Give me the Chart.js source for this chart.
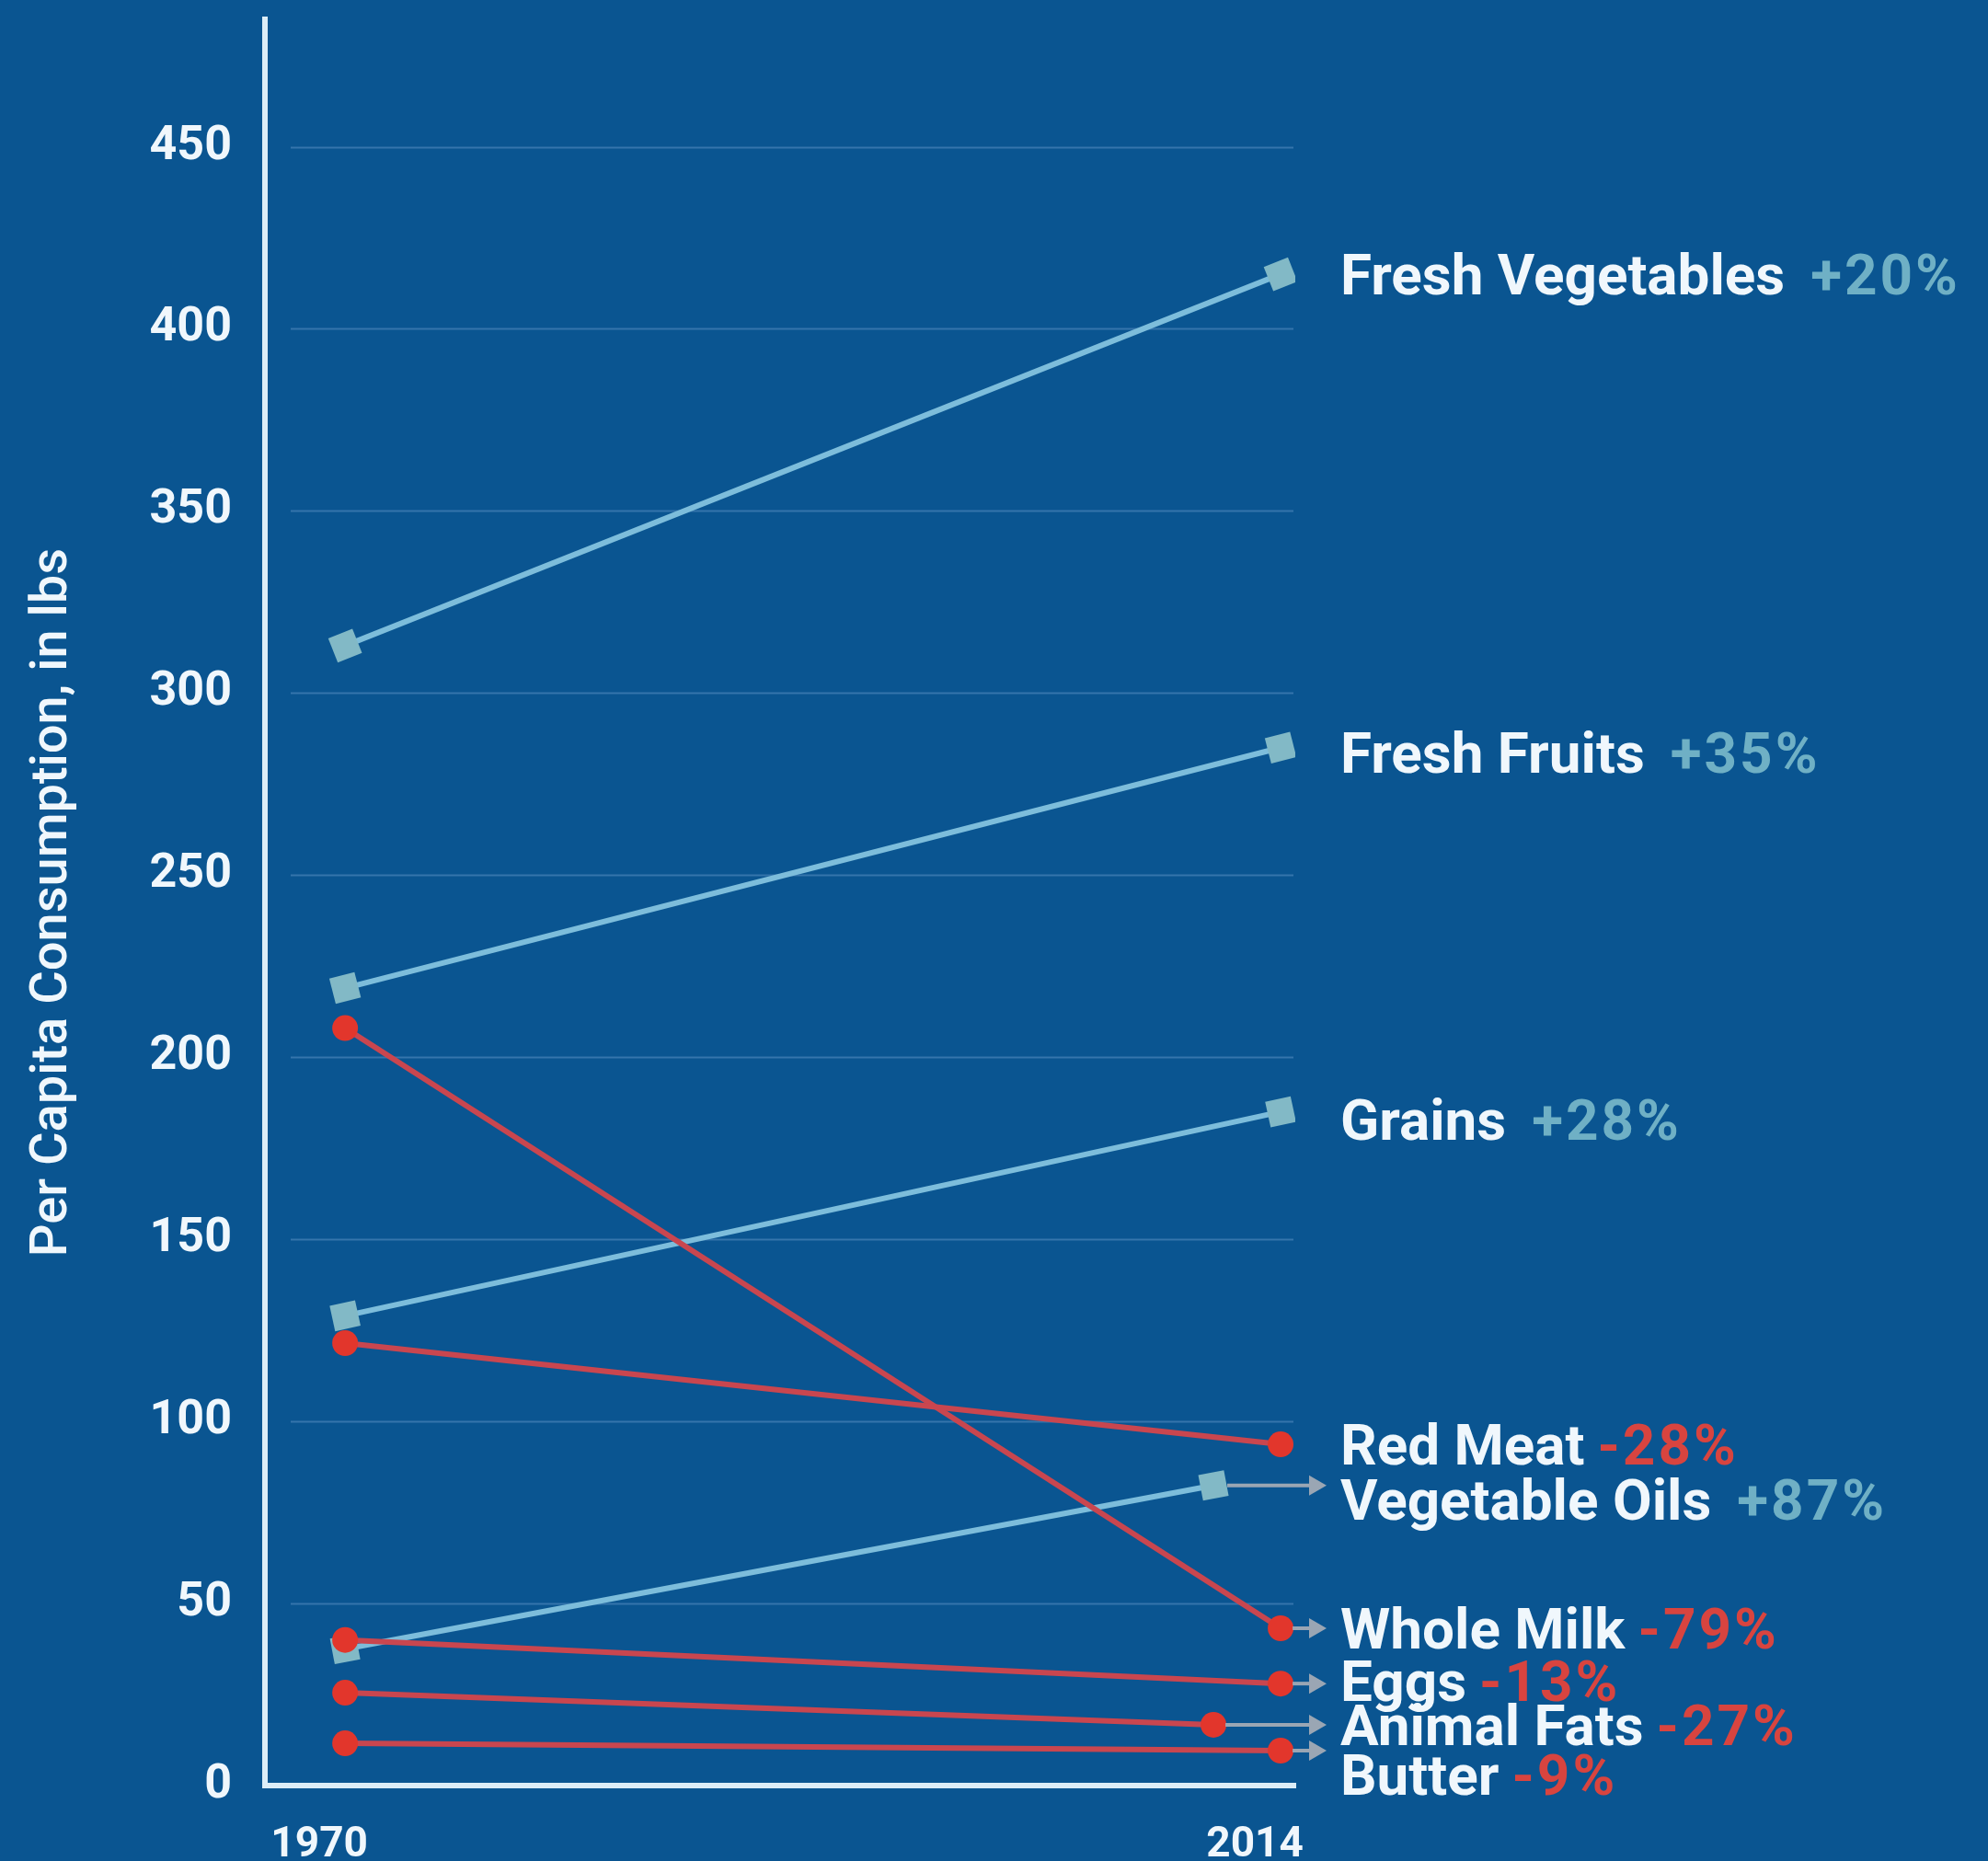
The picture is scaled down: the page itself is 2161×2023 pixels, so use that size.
<!DOCTYPE html>
<html>
<head>
<meta charset="utf-8">
<script src="https://cdn.jsdelivr.net/npm/chart.js@4.4.1/dist/chart.umd.min.js"></script>
<style>
  html, body { margin: 0; padding: 0; background: #0a5591; }
  #wrap { width: 2161px; height: 2023px; position: relative; }
</style>
</head>
<body>
<div id="wrap"><canvas id="chart"></canvas></div>
<script>
const years = [1970, 2014];
const foods = ['Fresh Vegetables', 'Fresh Fruits', 'Grains', 'Red Meat', 'Vegetable Oils', 'Whole Milk', 'Eggs', 'Animal Fats', 'Butter'];
const changes = ['+20%', '+35%', '+28%', '-28%', '+87%', '-79%', '-13%', '-27%', '-9%'];
const lbs1970 = [313, 219, 129, 121.5, 37.5, 208, 40, 25.5, 11.6];
const lbs2014 = [415, 285, 185, 93.7, 82.4, 43.2, 28, 16.7, 9.6];
const yTicks = [0, 50, 100, 150, 200, 250, 300, 350, 400, 450];

// label layout tweaks (px): vertical nudge of the right-hand labels,
// horizontal pull-back of crowded end markers, and which ones get an arrow
const labelShift = [0, 5, 8, 0, 15, 0, -3, 0, 26];
const endShift = [0, 0, 0, 0, -73, 0, 0, -73, 0];
const withArrow = [false, false, false, false, true, true, true, true, true];

const TEAL_LINE = '#7dbddb';
const TEAL_MARK = '#82b9c6';
const TEAL_TEXT = '#6fb0c5';
const RED_LINE = '#c9464f';
const RED_MARK = '#e2362c';
const RED_TEXT = '#d8443f';
const WHITE = '#f0f7fc';

const slopeAngle = (ctx) => {
  const { x, y } = ctx.chart.scales;
  if (!x || !y) return 0;
  const i = ctx.datasetIndex;
  const dx = x.getPixelForValue(years[1]) - x.getPixelForValue(years[0]) + endShift[i];
  const dy = y.getPixelForValue(lbs2014[i]) - y.getPixelForValue(lbs1970[i]);
  return Math.atan2(dy, dx) * 180 / Math.PI;
};

const datasets = foods.map((name, i) => {
  const up = lbs2014[i] > lbs1970[i];
  return {
    label: name,
    data: [{ x: years[0], y: lbs1970[i] }, { x: years[1], y: lbs2014[i] }],
    borderColor: up ? TEAL_LINE : RED_LINE,
    borderWidth: 6,
    pointStyle: up ? 'rect' : 'circle',
    pointRadius: up ? 20 : 14,
    pointBorderWidth: 0,
    pointBackgroundColor: up ? TEAL_MARK : RED_MARK,
    pointRotation: up ? slopeAngle : 0,
    order: up ? 1 : 0,
    endShift: endShift[i]
  };
});

const shiftEnds = {
  id: 'shiftEnds',
  afterDatasetsUpdate(chart) {
    chart.data.datasets.forEach((ds, i) => {
      if (!ds.endShift) return;
      const pt = chart.getDatasetMeta(i).data[1];
      pt.x += ds.endShift;
    });
  }
};

const gridLines = {
  id: 'gridLines',
  beforeDatasetsDraw(chart) {
    const { ctx, chartArea: { left, right }, scales: { y } } = chart;
    ctx.save();
    ctx.strokeStyle = 'rgba(95,150,200,0.5)';
    ctx.lineWidth = 2;
    yTicks.forEach(v => {
      if (v === 0) return;
      const py = Math.round(y.getPixelForValue(v)) + 0.5;
      ctx.beginPath();
      ctx.moveTo(left + 28, py);
      ctx.lineTo(right - 2, py);
      ctx.stroke();
    });
    ctx.restore();
  }
};

const foodLabels = {
  id: 'foodLabels',
  afterDatasetsDraw(chart) {
    const { ctx, chartArea: { right } } = chart;
    const tipX = right + 34;
    const textX = right + 49;
    ctx.save();
    foods.forEach((name, i) => {
      const pt = chart.getDatasetMeta(i).data[1];
      const up = lbs2014[i] > lbs1970[i];

      if (withArrow[i]) {
        const r = up ? 15 : 13;
        ctx.strokeStyle = '#9aa6b4';
        ctx.fillStyle = '#9aa6b4';
        ctx.lineWidth = 4;
        ctx.beginPath();
        ctx.moveTo(pt.x + r, pt.y);
        ctx.lineTo(tipX - 16, pt.y);
        ctx.stroke();
        ctx.beginPath();
        ctx.moveTo(tipX, pt.y);
        ctx.lineTo(tipX - 19, pt.y - 11);
        ctx.lineTo(tipX - 19, pt.y + 11);
        ctx.closePath();
        ctx.fill();
      }

      const ty = pt.y + labelShift[i] + 22;
      ctx.font = 'bold 62px Roboto';
      ctx.textAlign = 'left';
      ctx.textBaseline = 'alphabetic';
      ctx.letterSpacing = '0px';
      ctx.fillStyle = WHITE;
      ctx.fillText(name, textX, ty);
      const w = ctx.measureText(name).width;
      ctx.letterSpacing = '3px';
      ctx.fillStyle = up ? TEAL_TEXT : RED_TEXT;
      ctx.fillText(changes[i], textX + w + (up ? 28 : 14), ty);
    });
    ctx.restore();
  }
};

new Chart(document.getElementById('chart'), {
  type: 'line',
  data: { datasets },
  options: {
    responsive: true,
    maintainAspectRatio: false,
    animation: false,
    layout: {
      padding: { top: 21, right: 753, left: 0, bottom: 0 }
    },
    plugins: {
      legend: { display: false },
      tooltip: { enabled: false }
    },
    scales: {
      x: {
        type: 'linear',
        min: 1966.23,
        max: 2014.69,
        afterBuildTicks: (scale) => {
          scale.ticks = years.map(v => ({ value: v }));
        },
        afterFit: (scale) => {
          scale.height = 82;
          scale.paddingLeft = 0;
          scale.paddingRight = 0;
        },
        grid: { display: false },
        border: { display: true, color: '#dcedf7', width: 6 },
        ticks: {
          color: WHITE,
          font: { family: 'Roboto', weight: 'bold', size: 46 },
          padding: 30,
          labelOffset: -28,
          maxRotation: 0,
          callback: (v) => String(v)
        }
      },
      y: {
        min: 0,
        max: 485,
        afterBuildTicks: (scale) => {
          scale.ticks = yTicks.map(v => ({ value: v }));
        },
        afterFit: (scale) => {
          scale.width = 288;
          scale.paddingTop = 0;
          scale.paddingBottom = 0;
        },
        grid: { display: false },
        border: { display: true, color: '#dcedf7', width: 6 },
        ticks: {
          color: WHITE,
          font: { family: 'Roboto', weight: 'bold', size: 52 },
          padding: 28
        },
        title: {
          display: true,
          text: 'Per Capita Consumption, in lbs',
          color: WHITE,
          font: { family: 'Roboto', weight: '500', size: 56 },
          padding: { top: 24, bottom: 0 }
        }
      }
    }
  },
  plugins: [shiftEnds, gridLines, foodLabels]
});
</script>
</body>
</html>
